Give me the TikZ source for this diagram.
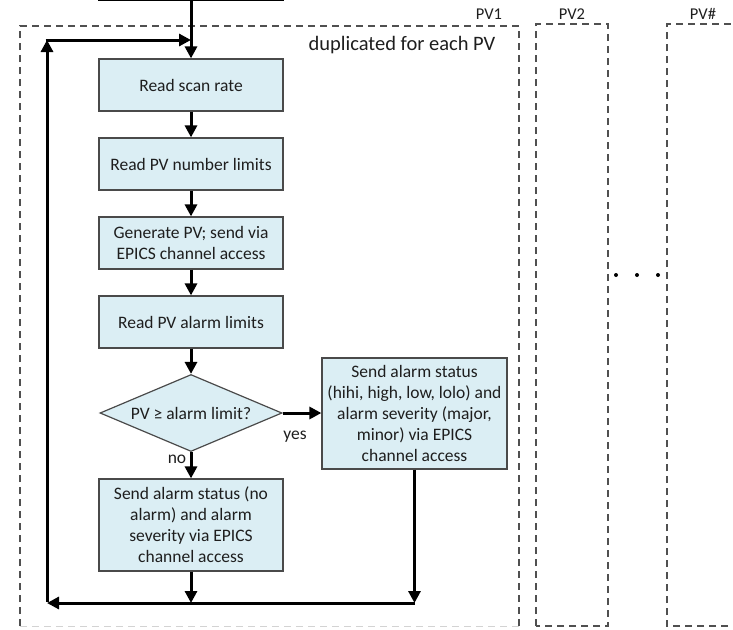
\documentclass[tikz,border=0pt]{standalone}
\usepackage{fontspec}
\setmainfont{Carlito}
\usetikzlibrary{shapes.geometric,arrows.meta}
\definecolor{boxfill}{HTML}{DBEEF4}
\definecolor{boxline}{HTML}{4A4A4A}
\definecolor{txt}{HTML}{1E1E1E}
\definecolor{dashc}{HTML}{505050}
\tikzset{
  stepbox/.style={draw=boxline, line width=1.2pt, fill=boxfill, text=txt,
    minimum width=184pt, align=center, inner sep=2pt,
    font=\fontsize{17.5}{21}\selectfont},
  decide/.style={diamond, draw=boxline, line width=1.2pt, fill=boxfill, text=txt,
    minimum width=182pt, minimum height=77pt, inner sep=0pt, aspect=2.4,
    font=\fontsize{17.5}{21}\selectfont},
  flow/.style={line width=3pt, draw=black, -{Triangle[length=12pt,width=12pt]}},
  pvbox/.style={draw=dashc, line width=1.2pt, dash pattern=on 7pt off 5pt},
  lbl/.style={text=txt, inner sep=0pt, font=\fontsize{17.5}{21}\selectfont},
  pvlbl/.style={text=txt, inner sep=0pt, font=\fontsize{16.5}{19}\selectfont}
}
\begin{document}
\begin{tikzpicture}[x=1pt,y=-1pt]
\useasboundingbox (0,0) rectangle (733,629);
\clip (0,0) rectangle (733,629);
% PV containers
\draw[pvbox] (20,626) -- (20,26) -- (519,26) -- (519,626);
\draw[draw=dashc!25, line width=1pt, dash pattern=on 7pt off 5pt] (20,626) -- (519,626);
\draw[pvbox] (536,626) -- (536,24) -- (608,24) -- (608,626) -- cycle;
\draw[pvbox] (740,626) -- (667,626) -- (667,24) -- (740,24);
\node[pvlbl] (pv1) at (489,14) {PV1};
\node[pvlbl] (pv2) at (572,14) {PV2};
\node[pvlbl] (pvn) at (703,14) {PV\#};
\node[text=txt, inner sep=0pt, font=\fontsize{20.5}{24}\selectfont] (dup) at (402,45) {duplicated for each PV};
\fill[black] (616,275) circle (2pt) (637,275) circle (2pt) (658,275) circle (2pt);
% flow nodes
\node[draw=black, line width=2.5pt, minimum width=184pt, minimum height=40pt] (prev) at (191,-20) {};
\node[stepbox, minimum height=52pt] (scan) at (191,85) {Read scan rate};
\node[stepbox, minimum height=52pt] (numlim) at (191,164) {Read PV number limits};
\node[stepbox, minimum height=52pt] (gen) at (191,243) {Generate PV; send via\\EPICS channel access};
\node[stepbox, minimum height=52pt] (alim) at (191,322) {Read PV alarm limits};
\node[decide] (dia) at (191,413) {PV ≥ alarm limit?};
\node[stepbox, minimum width=185pt, minimum height=111pt] (hi) at (414.5,413.5) {Send alarm status\\(hihi, high, low, lolo) and\\alarm severity (major,\\minor) via EPICS\\channel access};
\node[stepbox, minimum height=92pt] (ok) at (191,525) {Send alarm status (no\\alarm) and alarm\\severity via EPICS\\channel access};
\node[lbl] (yes) at (295,437) {yes};
\node[lbl] (no) at (177,459) {no};
% coordinates
\coordinate (join) at (191,40);
\coordinate (tl) at (47,40);
\coordinate (bl) at (47,603);
\coordinate (hib) at (414.5,603);
\coordinate (okb) at (191,603);
% connectors
\draw[flow] (prev.south) -- (scan.north);
\draw[flow] (scan) -- (numlim);
\draw[flow] (numlim) -- (gen);
\draw[flow] (gen) -- (alim);
\draw[flow] (alim) -- (dia.north);
\draw[flow] (dia.east) -- (hi.west |- dia.east);
\draw[flow] (dia.south) -- (ok.north);
\draw[flow] (ok.south) -- (okb);
\draw[flow] (hi.south) -- (hib);
\draw[flow] (hib) -- (bl);
\draw[flow] ([yshift=1.5pt]bl) -- (tl);
\draw[flow] ([xshift=-1.5pt]tl) -- (join);
\end{tikzpicture}
\end{document}
